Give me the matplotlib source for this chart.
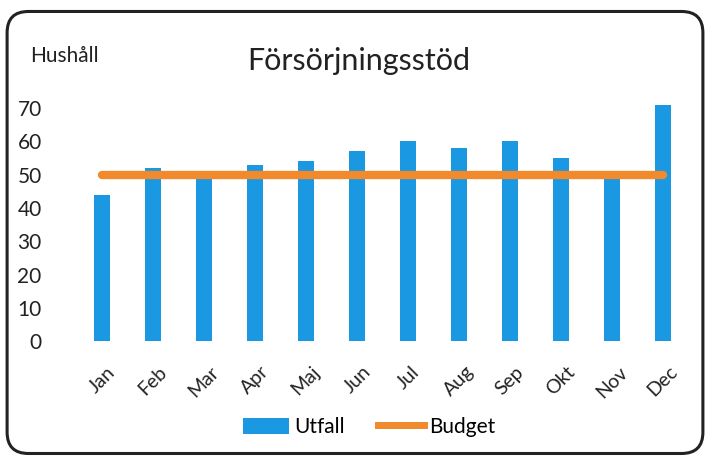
import matplotlib
matplotlib.use("Agg")
import matplotlib.pyplot as plt
from matplotlib.patches import FancyBboxPatch, Patch
from matplotlib.lines import Line2D

months = ["Jan", "Feb", "Mar", "Apr", "Maj", "Jun", "Jul", "Aug", "Sep", "Okt", "Nov", "Dec"]
utfall = [44, 52, 49, 53, 54, 57, 60, 58, 60, 55, 49, 71]
budget = [50, 50, 50, 50, 50, 50, 50, 50, 50, 50, 50, 50]
yticks = [0, 10, 20, 30, 40, 50, 60, 70]

plt.rcParams['font.family'] = ['Lato', 'DejaVu Sans']
bar_color = "#1a98e2"
line_color = "#f08a2c"
text_color = "#222222"

fig = plt.figure(figsize=(7.10, 4.59), dpi=100)
ax = fig.add_axes([0.1077, 0.257, 0.862, 0.529])

x = list(range(len(months)))
ax.bar(x, utfall, width=0.33, color=bar_color, zorder=2)
ax.plot(x, budget, color=line_color, lw=6, solid_capstyle='round', zorder=3)

ax.set_xlim(-0.5, 11.5)
ax.set_ylim(0, 73)
ax.set_yticks(yticks)
ax.set_yticklabels([str(v) for v in yticks], fontsize=15, color=text_color)
ax.set_xticks(x)
ax.set_xticklabels(months, rotation=45, fontsize=14, color=text_color, ha='center')
ax.tick_params(axis='y', length=0, pad=25)
ax.tick_params(axis='x', length=0, pad=16)
for s in ax.spines.values():
    s.set_visible(False)

fig.text(0.506, 0.868, "Försörjningsstöd", fontsize=22, ha='center', va='center', color=text_color)
fig.text(0.042, 0.877, "Hushåll", fontsize=15, ha='left', va='center', color=text_color)

handles = [Patch(facecolor=bar_color, edgecolor='none'),
           Line2D([0], [0], color=line_color, lw=5)]
fig.legend(handles, ["Utfall", "Budget"], loc='center', bbox_to_anchor=(0.52, 0.07),
           ncol=2, frameon=False, fontsize=15, handlelength=2.2, handleheight=0.8,
           columnspacing=1.6, handletextpad=0.25)

border = FancyBboxPatch((0.01, 0.012), 0.98, 0.963, boxstyle="round,pad=0,rounding_size=0.03",
                        transform=fig.transFigure, fill=False, edgecolor="#222222", lw=2.2,
                        mutation_aspect=710/459)
fig.patches.append(border)

fig.savefig("out.png", dpi=100, facecolor='white')
